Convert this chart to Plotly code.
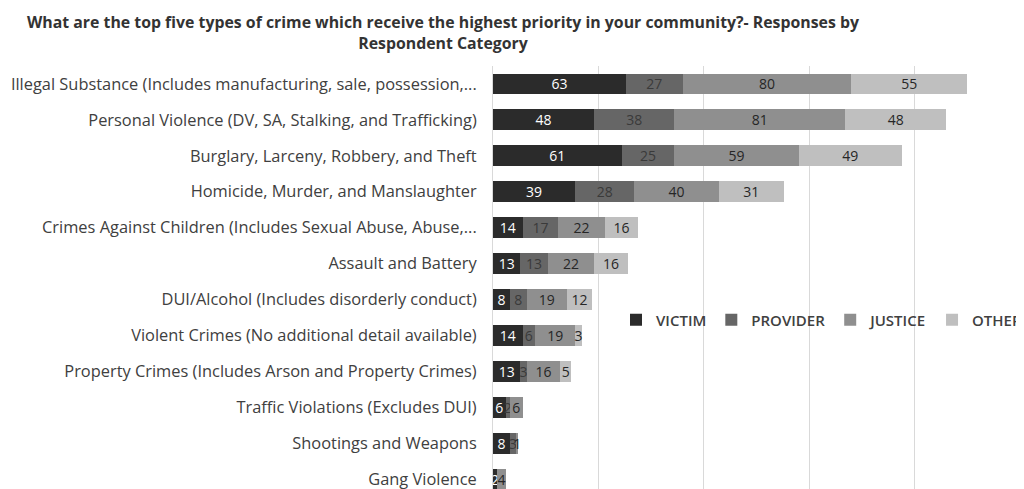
import plotly.graph_objects as go

categories = [
    "Illegal Substance (Includes manufacturing, sale, possession,...",
    "Personal Violence (DV, SA, Stalking, and Trafficking)",
    "Burglary, Larceny, Robbery, and Theft",
    "Homicide, Murder, and Manslaughter",
    "Crimes Against Children (Includes Sexual Abuse, Abuse,...",
    "Assault and Battery",
    "DUI/Alcohol (Includes disorderly conduct)",
    "Violent Crimes (No additional detail available)",
    "Property Crimes (Includes Arson and Property Crimes)",
    "Traffic Violations (Excludes DUI)",
    "Shootings and Weapons",
    "Gang Violence",
]
victim   = [63, 48, 61, 39, 14, 13, 8, 14, 13, 6, 8, 2]
provider = [27, 38, 25, 28, 17, 13, 8, 6, 3, 2, 3, None]
justice  = [80, 81, 59, 40, 22, 22, 19, 19, 16, 6, 1, 4]
other    = [55, 48, 49, 31, 16, 16, 12, 3, 5, None, None, None]

series = [
    ("VICTIM", victim, "#2b2b2b", "#ffffff"),
    ("PROVIDER", provider, "#666666", "#3a3a3a"),
    ("JUSTICE", justice, "#8f8f8f", "#262626"),
    ("OTHER", other, "#bfbfbf", "#262626"),
]

FONT = "Open Sans"
fig = go.Figure()
for name, vals, color, tcolor in series:
    fig.add_trace(go.Bar(
        name=name, y=categories, x=vals, orientation="h",
        marker=dict(color=color, line=dict(width=0)),
        text=[("" if v is None else str(v)) for v in vals],
        textposition="inside", insidetextanchor="middle", textangle=0,
        textfont=dict(family=FONT, size=14, color=tcolor),
        constraintext="none", cliponaxis=False,
    ))

# the page body adds an 8px offset; layout values below compensate for it
fig.update_layout(
    width=1024, height=489,
    barmode="stack", bargap=0.42,
    paper_bgcolor="white", plot_bgcolor="white",
    margin=dict(l=485, r=12, t=58, b=0, autoexpand=False),
    font=dict(family=FONT, color="#404040"),
    uniformtext=dict(minsize=14, mode="show"),
    title=dict(
        text="What are the top five types of crime which receive the highest priority in your community?- Responses by<br>Respondent Category",
        x=435/1024, xref="container", xanchor="center",
        y=1-20/489, yref="container", yanchor="top",
        font=dict(family=FONT, size=15.85, color="#333333", weight="bold"),
    ),
    legend=dict(
        orientation="h", xref="container", yref="container",
        x=608/1024, xanchor="left",
        y=1-312/489, yanchor="middle",
        font=dict(family=FONT, size=15, color="#404040", weight=600),
        traceorder="normal", bgcolor="rgba(0,0,0,0)",
    ),
    showlegend=True,
)
fig.update_xaxes(range=[0, 250], dtick=50, showgrid=True, gridcolor="#d9d9d9",
                 gridwidth=1, showticklabels=False, zeroline=False, showline=False,
                 automargin=False)
fig.update_yaxes(range=[11.5, -0.5], showgrid=False, ticks="", ticklabelstandoff=12,
                 tickfont=dict(family=FONT, size=16.4, color="#404040"),
                 showline=True, linecolor="#d9d9d9", linewidth=1,
                 zeroline=False, automargin=False)

fig.write_html("out.html")
